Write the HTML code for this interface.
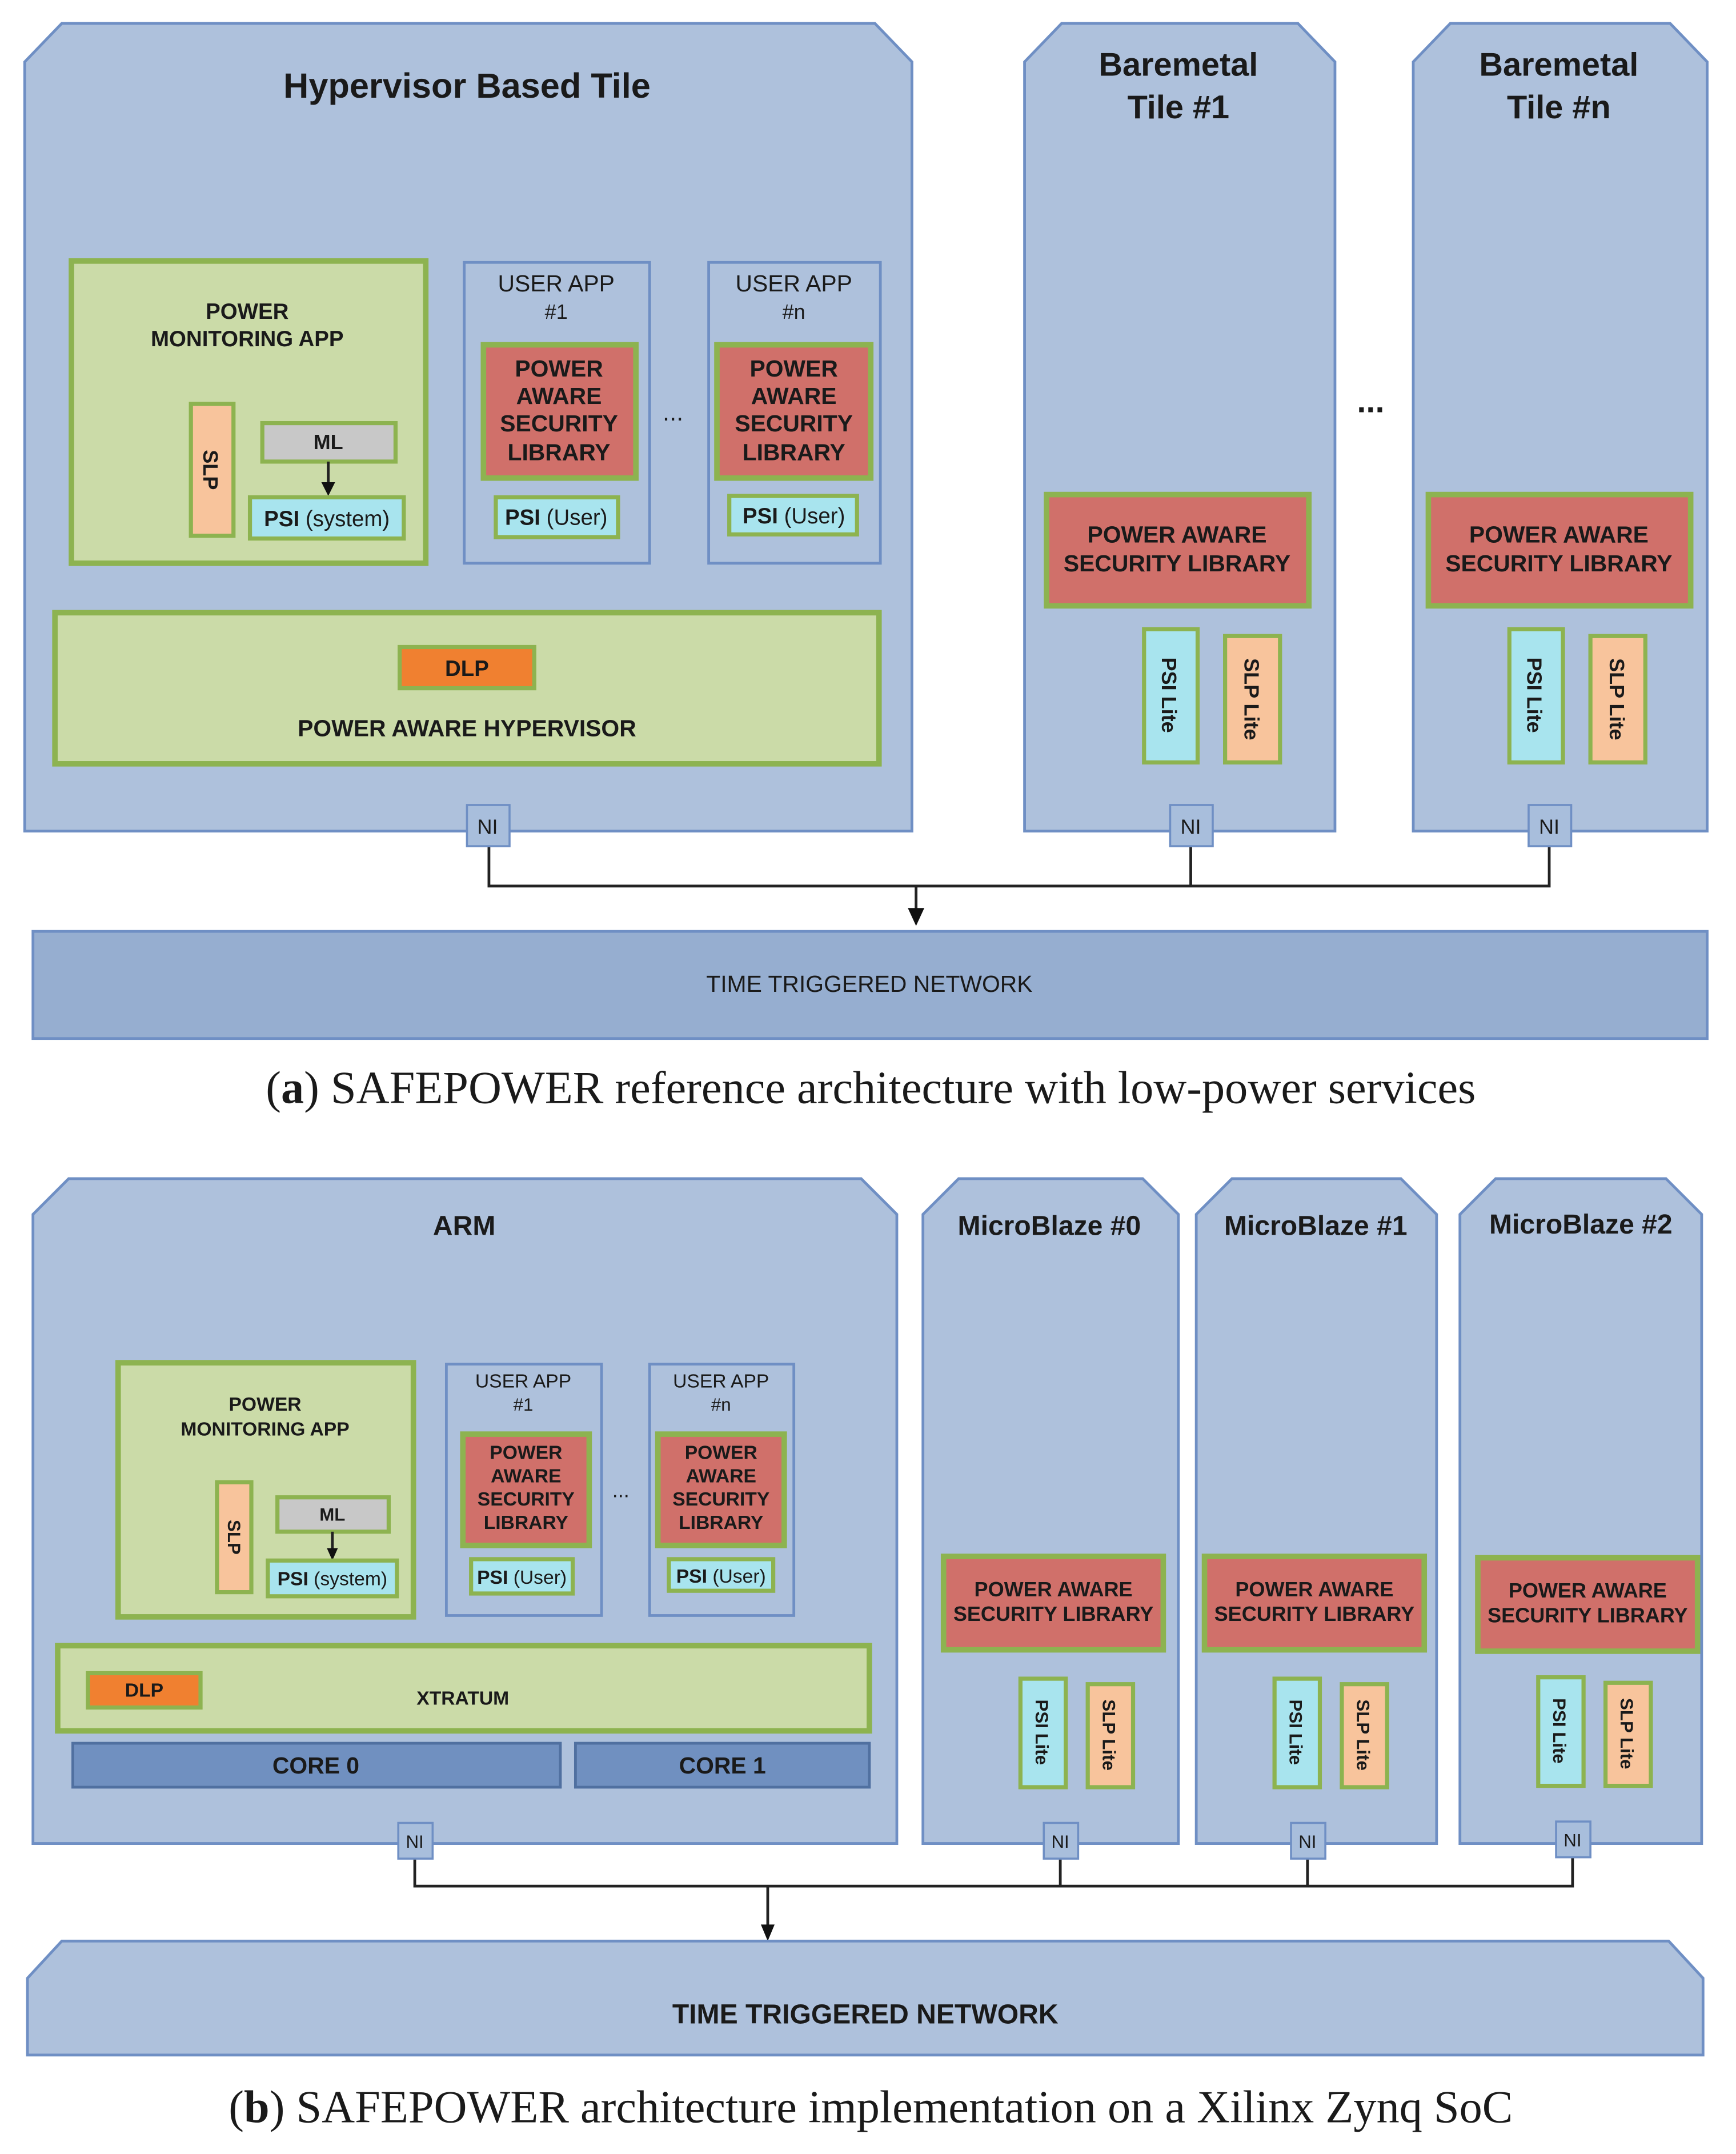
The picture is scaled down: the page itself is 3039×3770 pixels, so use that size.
<!DOCTYPE html>
<html><head><meta charset="utf-8"><style>
html,body{margin:0;padding:0;background:#fff}
svg{display:block}
text{font-family:"Liberation Sans",sans-serif;fill:#1a1a1a;text-anchor:middle}
.b{font-weight:bold}
.cap{font-family:"Liberation Serif",serif;font-size:33.4px}
.tile{fill:#aec1dc;stroke:#6f8fc4;stroke-width:2}
.grn{fill:#cbdba8;stroke:#8db350;stroke-width:4}
.red{fill:#d0706a;stroke:#8db350;stroke-width:4}
.psi{fill:#a8e4ee;stroke:#8db350;stroke-width:3}
.slp{fill:#f8c49c;stroke:#8db350;stroke-width:3}
.ml{fill:#c8c8c8;stroke:#8db350;stroke-width:3}
.dlp{fill:#f08030;stroke:#8db350;stroke-width:3}
.ni{fill:#a8bedc;stroke:#6f8fc4;stroke-width:1.5}
.ln{stroke:#222;stroke-width:2;fill:none}
.ah{fill:#111}
</style></head><body>
<svg width="3039" height="3770" viewBox="0 0 1264 1568" xmlns="http://www.w3.org/2000/svg">

<!-- PART A -->
<polygon class="tile" points="18,45 45,17 637,17 664,45 664,605 18,605"/>
<text x="340" y="71" class="b" font-size="25.5">Hypervisor Based Tile</text>
<rect class="grn" x="52" y="190" width="258" height="220"/>
<text x="180" y="232" class="b" font-size="16">POWER</text>
<text x="180" y="252" class="b" font-size="16">MONITORING APP</text>
<rect class="slp" x="139" y="294" width="31" height="96"/>
<text transform="translate(148,342) rotate(90)" class="b" font-size="15">SLP</text>
<rect class="ml" x="191" y="308" width="97" height="28"/>
<text x="239" y="327" class="b" font-size="15">ML</text>
<line class="ln" x1="239" y1="336" x2="239" y2="352"/>
<polygon class="ah" points="234,351 244,351 239,361"/>
<rect class="psi" x="182" y="362" width="112" height="30"/>
<text x="238" y="383" font-size="16"><tspan class="b">PSI</tspan> (system)</text>

<rect class="tile" x="338" y="191" width="135" height="219"/>
<text x="405" y="212" font-size="17">USER APP</text>
<text x="405" y="232" font-size="15">#1</text>
<rect class="red" x="352" y="251" width="111" height="97"/>
<text x="407" y="274" class="b" font-size="17">POWER</text>
<text x="407" y="294" class="b" font-size="17">AWARE</text>
<text x="407" y="314" class="b" font-size="17">SECURITY</text>
<text x="407" y="335" class="b" font-size="17">LIBRARY</text>
<rect class="psi" x="361" y="362" width="89" height="29"/>
<text x="405" y="382" font-size="16"><tspan class="b">PSI</tspan> (User)</text>
<text x="490" y="306" font-size="18">...</text>

<rect class="tile" x="516" y="191" width="125" height="219"/>
<text x="578" y="212" font-size="17">USER APP</text>
<text x="578" y="232" font-size="15">#n</text>
<rect class="red" x="522" y="251" width="112" height="97"/>
<text x="578" y="274" class="b" font-size="17">POWER</text>
<text x="578" y="294" class="b" font-size="17">AWARE</text>
<text x="578" y="314" class="b" font-size="17">SECURITY</text>
<text x="578" y="335" class="b" font-size="17">LIBRARY</text>
<rect class="psi" x="531" y="361" width="93" height="28"/>
<text x="578" y="381" font-size="16"><tspan class="b">PSI</tspan> (User)</text>

<rect class="grn" x="40" y="446" width="600" height="110"/>
<rect class="dlp" x="291" y="471" width="98" height="30"/>
<text x="340" y="492" class="b" font-size="16">DLP</text>
<text x="340" y="536" class="b" font-size="17">POWER AWARE HYPERVISOR</text>

<polygon class="tile" points="746,45 773,17 945,17 972,45 972,605 746,605"/>
<text x="858" y="55" class="b" font-size="24">Baremetal</text>
<text x="858" y="86" class="b" font-size="24">Tile #1</text>
<rect class="red" x="762" y="360" width="191" height="81"/>
<text x="857" y="395" class="b" font-size="17">POWER AWARE</text>
<text x="857" y="416" class="b" font-size="17">SECURITY LIBRARY</text>
<rect class="psi" x="833" y="458" width="39" height="97"/>
<text transform="translate(846,506) rotate(90)" class="b" font-size="15">PSI Lite</text>
<rect class="slp" x="892" y="463" width="40" height="92"/>
<text transform="translate(906,509) rotate(90)" class="b" font-size="15">SLP Lite</text>
<text x="998" y="300" class="b" font-size="24">...</text>

<polygon class="tile" points="1029,45 1056,17 1216,17 1243,45 1243,605 1029,605"/>
<text x="1135" y="55" class="b" font-size="24">Baremetal</text>
<text x="1135" y="86" class="b" font-size="24">Tile #n</text>
<rect class="red" x="1040" y="360" width="191" height="81"/>
<text x="1135" y="395" class="b" font-size="17">POWER AWARE</text>
<text x="1135" y="416" class="b" font-size="17">SECURITY LIBRARY</text>
<rect class="psi" x="1099" y="458" width="39" height="97"/>
<text transform="translate(1112,506) rotate(90)" class="b" font-size="15">PSI Lite</text>
<rect class="slp" x="1158" y="463" width="40" height="92"/>
<text transform="translate(1172,509) rotate(90)" class="b" font-size="15">SLP Lite</text>

<polyline class="ln" points="356,616 356,645 1128,645 1128,616"/>
<line class="ln" x1="867" y1="616" x2="867" y2="645"/>
<line class="ln" x1="667" y1="645" x2="667" y2="662"/>
<polygon class="ah" points="661,661 673,661 667,674"/>
<rect class="ni" x="340" y="586" width="31" height="30"/><text x="355" y="607" font-size="15">NI</text>
<rect class="ni" x="852" y="586" width="31" height="30"/><text x="867" y="607" font-size="15">NI</text>
<rect class="ni" x="1113" y="586" width="31" height="30"/><text x="1128" y="607" font-size="15">NI</text>

<rect x="24" y="678" width="1219" height="78" fill="#96aed0" stroke="#6f8fc4" stroke-width="2"/>
<text x="633" y="722" font-size="17">TIME TRIGGERED NETWORK</text>
<text x="634" y="803" class="cap">(<tspan font-weight="bold">a</tspan>) SAFEPOWER reference architecture with low-power services</text>

<!-- PART B -->
<polygon class="tile" points="24,884 50,858 627,858 653,884 653,1342 24,1342"/>
<text x="338" y="899" class="b" font-size="20">ARM</text>
<rect class="grn" x="86" y="992" width="215" height="185"/>
<text x="193" y="1027" class="b" font-size="14">POWER</text>
<text x="193" y="1045" class="b" font-size="14">MONITORING APP</text>
<rect class="slp" x="158" y="1079" width="25" height="80"/>
<text transform="translate(166,1119) rotate(90)" class="b" font-size="13">SLP</text>
<rect class="ml" x="202" y="1090" width="81" height="25"/>
<text x="242" y="1107" class="b" font-size="13">ML</text>
<line class="ln" x1="242" y1="1115" x2="242" y2="1128"/>
<polygon class="ah" points="238,1127 246,1127 242,1136"/>
<rect class="psi" x="195" y="1136" width="94" height="26"/>
<text x="242" y="1154" font-size="14"><tspan class="b">PSI</tspan> (system)</text>

<rect class="tile" x="325" y="993" width="113" height="183"/>
<text x="381" y="1010" font-size="14">USER APP</text>
<text x="381" y="1027" font-size="13">#1</text>
<rect class="red" x="337" y="1044" width="92" height="81"/>
<text x="383" y="1062" class="b" font-size="14">POWER</text>
<text x="383" y="1079" class="b" font-size="14">AWARE</text>
<text x="383" y="1096" class="b" font-size="14">SECURITY</text>
<text x="383" y="1113" class="b" font-size="14">LIBRARY</text>
<rect class="psi" x="343" y="1135" width="74" height="25"/>
<text x="380" y="1153" font-size="14"><tspan class="b">PSI</tspan> (User)</text>
<text x="452" y="1090" font-size="15">...</text>

<rect class="tile" x="473" y="993" width="105" height="183"/>
<text x="525" y="1010" font-size="14">USER APP</text>
<text x="525" y="1027" font-size="13">#n</text>
<rect class="red" x="479" y="1044" width="92" height="81"/>
<text x="525" y="1062" class="b" font-size="14">POWER</text>
<text x="525" y="1079" class="b" font-size="14">AWARE</text>
<text x="525" y="1096" class="b" font-size="14">SECURITY</text>
<text x="525" y="1113" class="b" font-size="14">LIBRARY</text>
<rect class="psi" x="487" y="1135" width="76" height="23"/>
<text x="525" y="1152" font-size="14"><tspan class="b">PSI</tspan> (User)</text>

<rect class="grn" x="42" y="1198" width="591" height="62"/>
<rect class="dlp" x="64" y="1218" width="82" height="25"/>
<text x="105" y="1235" class="b" font-size="14">DLP</text>
<text x="337" y="1241" class="b" font-size="14">XTRATUM</text>
<rect x="53" y="1269" width="355" height="32" fill="#7090c0" stroke="#5070a0" stroke-width="2"/>
<text x="230" y="1291" class="b" font-size="17">CORE 0</text>
<rect x="419" y="1269" width="214" height="32" fill="#7090c0" stroke="#5070a0" stroke-width="2"/>
<text x="526" y="1291" class="b" font-size="17">CORE 1</text>

<polygon class="tile" points="672,884 698,858 832,858 858,884 858,1342 672,1342"/>
<text x="764" y="899" class="b" font-size="20">MicroBlaze #0</text>
<rect class="red" x="687" y="1133" width="160" height="68"/>
<text x="767" y="1162" class="b" font-size="15">POWER AWARE</text>
<text x="767" y="1180" class="b" font-size="15">SECURITY LIBRARY</text>
<rect class="psi" x="743" y="1222" width="33" height="79"/>
<text transform="translate(754,1261) rotate(90)" class="b" font-size="13">PSI Lite</text>
<rect class="slp" x="792" y="1226" width="33" height="75"/>
<text transform="translate(803,1263) rotate(90)" class="b" font-size="13">SLP Lite</text>

<polygon class="tile" points="871,884 897,858 1020,858 1046,884 1046,1342 871,1342"/>
<text x="958" y="899" class="b" font-size="20">MicroBlaze #1</text>
<rect class="red" x="877" y="1133" width="160" height="68"/>
<text x="957" y="1162" class="b" font-size="15">POWER AWARE</text>
<text x="957" y="1180" class="b" font-size="15">SECURITY LIBRARY</text>
<rect class="psi" x="928" y="1222" width="33" height="79"/>
<text transform="translate(939,1261) rotate(90)" class="b" font-size="13">PSI Lite</text>
<rect class="slp" x="977" y="1226" width="33" height="75"/>
<text transform="translate(988,1263) rotate(90)" class="b" font-size="13">SLP Lite</text>

<polygon class="tile" points="1063,884 1089,858 1213,858 1239,884 1239,1342 1063,1342"/>
<text x="1151" y="898" class="b" font-size="20">MicroBlaze #2</text>
<rect class="red" x="1076" y="1134" width="160" height="68"/>
<text x="1156" y="1163" class="b" font-size="15">POWER AWARE</text>
<text x="1156" y="1181" class="b" font-size="15">SECURITY LIBRARY</text>
<rect class="psi" x="1120" y="1221" width="33" height="79"/>
<text transform="translate(1131,1260) rotate(90)" class="b" font-size="13">PSI Lite</text>
<rect class="slp" x="1169" y="1225" width="33" height="75"/>
<text transform="translate(1180,1262) rotate(90)" class="b" font-size="13">SLP Lite</text>

<polyline class="ln" points="302,1353 302,1373 1145,1373 1145,1352"/>
<line class="ln" x1="772" y1="1353" x2="772" y2="1373"/>
<line class="ln" x1="952" y1="1353" x2="952" y2="1373"/>
<line class="ln" x1="559" y1="1373" x2="559" y2="1402"/>
<polygon class="ah" points="554,1401 564,1401 559,1413"/>
<rect class="ni" x="290" y="1327" width="25" height="26"/><text x="302" y="1345" font-size="13">NI</text>
<rect class="ni" x="760" y="1327" width="25" height="26"/><text x="772" y="1345" font-size="13">NI</text>
<rect class="ni" x="940" y="1327" width="25" height="26"/><text x="952" y="1345" font-size="13">NI</text>
<rect class="ni" x="1133" y="1326" width="25" height="26"/><text x="1145" y="1344" font-size="13">NI</text>

<polygon points="20,1440 45,1413 1215,1413 1240,1440 1240,1496 20,1496" fill="#aec1dc" stroke="#6f8fc4" stroke-width="2"/>
<text x="630" y="1473" class="b" font-size="20">TIME TRIGGERED NETWORK</text>
<text x="634" y="1545" class="cap">(<tspan font-weight="bold">b</tspan>) SAFEPOWER architecture implementation on a Xilinx Zynq SoC</text>
</svg>
</body></html>
